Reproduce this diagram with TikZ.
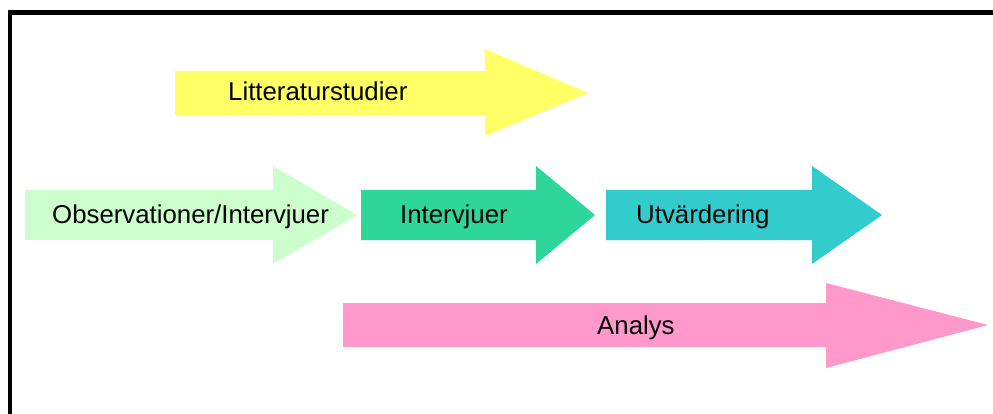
\documentclass[tikz,border=0pt]{standalone}
\usepackage{fontspec}
\setmainfont{Liberation Sans}
\definecolor{lityellow}{HTML}{FFFF66}
\definecolor{obsgreen}{HTML}{CCFFCC}
\definecolor{intgreen}{HTML}{2ED699}
\definecolor{utvteal}{HTML}{33CCCC}
\definecolor{anapink}{HTML}{FF99CC}
\begin{document}
\begin{tikzpicture}[x=1pt,y=-1pt]
\tikzstyle{phasetext} = [anchor=base west, inner sep=0pt, font=\fontsize{25.8}{30}\selectfont]
\useasboundingbox (0,0) rectangle (993,414);
% frame
\draw[line width=4.5pt] (10,414) -- (10,12.5) -- (993,12.5);
% arrows
\fill[lityellow] (175,71) -- (485,71) -- (485,49) -- (588,93) -- (485,136) -- (485,115) -- (175,115) -- cycle;
\fill[obsgreen] (25,190) -- (273,190) -- (273,166) -- (357,215) -- (273,264) -- (273,240) -- (25,240) -- cycle;
\fill[intgreen] (361,190) -- (536,190) -- (536,166) -- (595,215) -- (536,264) -- (536,240) -- (361,240) -- cycle;
\fill[utvteal] (606,190) -- (812,190) -- (812,166) -- (882,215) -- (812,264) -- (812,240) -- (606,240) -- cycle;
\fill[anapink] (343,303) -- (826,303) -- (826,283) -- (988,325) -- (826,368) -- (826,347) -- (343,347) -- cycle;
% labels
\node (lit)[phasetext] at (228,101) {Litteraturstudier};
\node (obs)[phasetext] at (52,223) {Observationer/Intervjuer};
\node (int)[phasetext] at (400,223) {Intervjuer};
\node (utv)[phasetext] at (636,223) {Utvärdering};
\node (ana)[phasetext] at (597,334) {Analys};
\end{tikzpicture}
\end{document}
